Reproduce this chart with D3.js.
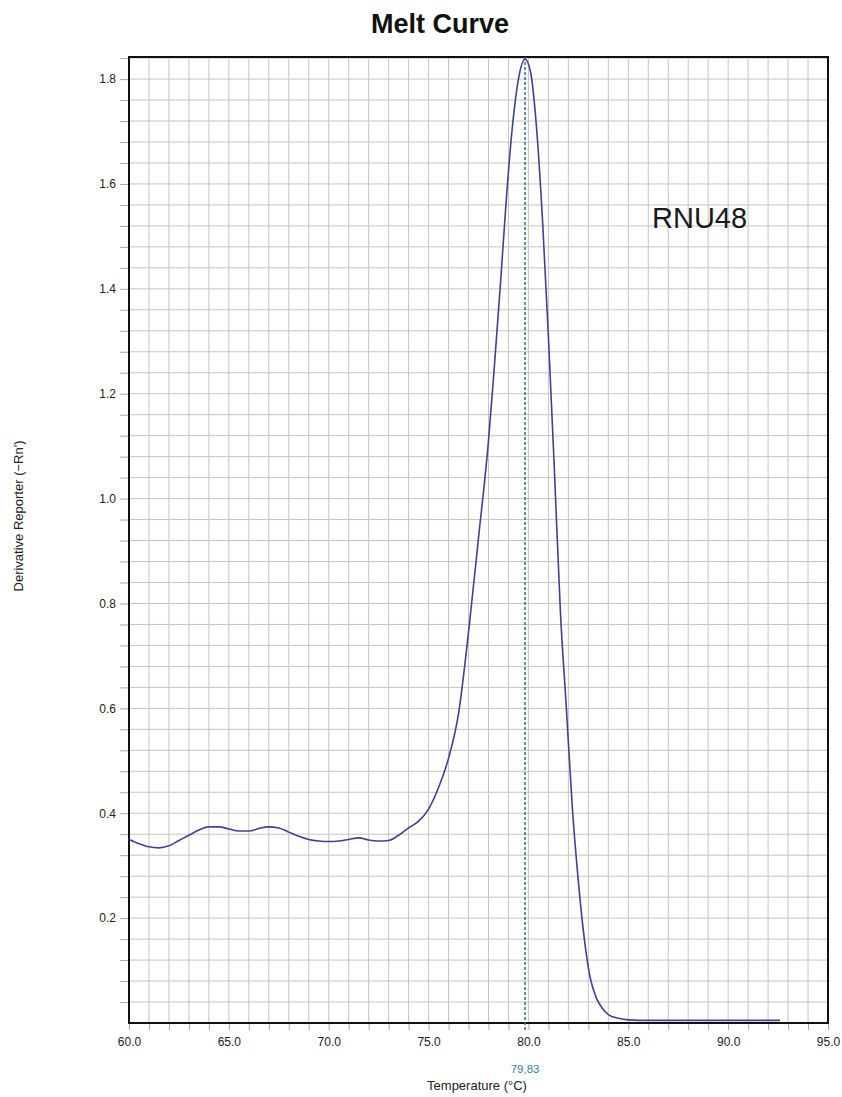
<!DOCTYPE html>
<html>
<head>
<meta charset="utf-8">
<script src="https://cdn.jsdelivr.net/npm/d3@7"></script>
<style>
  html, body { margin: 0; padding: 0; background: #fff; }
  svg { display: block; font-family: "Liberation Sans", Arial, sans-serif; }
</style>
</head>
<body>
<svg id="chart" width="842" height="1097"></svg>
<script>
// ---- data ----
const temperature = [60, 60.5, 61, 61.5, 62, 62.5, 63, 63.5, 64, 64.5, 65, 65.5, 66, 66.5, 67, 67.5, 68, 68.5, 69, 69.5,
  70, 70.5, 71, 71.5, 72, 72.5, 73, 73.5, 74, 74.5, 75, 75.5, 76, 76.5, 77, 77.5, 78, 78.3, 78.6, 78.9, 79.2, 79.5, 79.83,
  80.1, 80.4, 80.7, 81.0, 81.3, 81.6, 81.9, 82.2, 82.5, 82.8, 83.1, 83.4, 83.7, 84.0, 84.5, 85, 86, 88, 90, 92.6];
const derivative = [0.350, 0.342, 0.336, 0.334, 0.338, 0.348, 0.358, 0.368, 0.374, 0.374, 0.370, 0.366, 0.366, 0.371, 0.374, 0.372, 0.364, 0.356, 0.350, 0.347,
  0.346, 0.347, 0.350, 0.353, 0.349, 0.347, 0.348, 0.358, 0.372, 0.385, 0.408, 0.449, 0.505, 0.590, 0.745, 0.925, 1.110, 1.255, 1.410, 1.575, 1.710, 1.800, 1.838,
  1.815, 1.710, 1.535, 1.310, 1.055, 0.785, 0.600, 0.410, 0.270, 0.160, 0.085, 0.048, 0.028, 0.016, 0.009, 0.006, 0.005, 0.005, 0.005, 0.005];
const xTickLabels = ["60.0", "65.0", "70.0", "75.0", "80.0", "85.0", "90.0", "95.0"];
const yTickLabels = ["0.2", "0.4", "0.6", "0.8", "1.0", "1.2", "1.4", "1.6", "1.8"];
const meltTemp = 79.83;
const meltLabel = "79,83";
const targetName = "RNU48";
const title = "Melt Curve";
const xTitle = "Temperature (°C)";
const yTitle = "Derivative Reporter (\u2212Rn')";

// ---- layout ----
const svg = d3.select("#chart");
const L = 129, R = 828, T = 57, B = 1023;
const x = d3.scaleLinear().domain([60, 95]).range([L, R]);
const y = d3.scaleLinear().domain([0, (B - T) / 524.4]).range([B, T]);

const gridColor = "#c4c4c4";
const xMinor = d3.range(60, 95.001, 1);
const yMinor = d3.range(0.04, y.domain()[1], 0.04);

// grid
svg.append("g").selectAll("line").data(xMinor.slice(1, -1)).join("line")
  .attr("x1", d => x(d)).attr("x2", d => x(d)).attr("y1", T).attr("y2", B)
  .attr("stroke", gridColor).attr("stroke-width", 1);
svg.append("g").selectAll("line").data(yMinor).join("line")
  .attr("x1", L).attr("x2", R).attr("y1", d => y(d)).attr("y2", d => y(d))
  .attr("stroke", gridColor).attr("stroke-width", 1);

// x axis ticks (every 1 °C) and labels
const xAxis = d3.axisBottom(x).tickValues(xMinor).tickSize(7)
  .tickFormat(d => (d % 5 === 0) ? xTickLabels[(d - 60) / 5] : "");
const gx = svg.append("g").attr("transform", `translate(0,${B})`).call(xAxis);
gx.select(".domain").remove();
gx.selectAll(".tick line").attr("stroke", "#a8a8a8");
gx.selectAll(".tick text").attr("font-size", 12).attr("fill", "#222").attr("dy", "1.05em")
  .attr("font-family", "Liberation Sans, Arial, sans-serif");

// y axis ticks (every 0.04) and labels
const yAxis = d3.axisLeft(y).tickValues(yMinor).tickSize(9)
  .tickFormat(d => {
    const k = Math.round(d / 0.04);
    return (k % 5 === 0) ? yTickLabels[k / 5 - 1] : "";
  });
const gy = svg.append("g").attr("transform", `translate(${L},0)`).call(yAxis);
gy.select(".domain").remove();
gy.selectAll(".tick line").attr("stroke", "#a8a8a8");
gy.selectAll(".tick text").attr("font-size", 12).attr("fill", "#222").attr("x", -13)
  .attr("font-family", "Liberation Sans, Arial, sans-serif");

// frame
svg.append("rect").attr("x", L).attr("y", T).attr("width", R - L).attr("height", B - T)
  .attr("fill", "none").attr("stroke", "#111").attr("stroke-width", 2);

// melt temperature marker
svg.append("line")
  .attr("x1", x(meltTemp)).attr("x2", x(meltTemp)).attr("y1", T).attr("y2", B + 7)
  .attr("stroke", "#2f6f80").attr("stroke-width", 1.5).attr("stroke-dasharray", "3,2");
svg.append("text").attr("x", x(meltTemp)).attr("y", 1073).attr("text-anchor", "middle")
  .attr("font-size", 11.5).attr("fill", "#3b7f9c").text(meltLabel);

// curve
const pts = temperature.map((t, i) => [t, derivative[i]]);
const line = d3.line().x(d => x(d[0])).y(d => y(d[1])).curve(d3.curveMonotoneX);
svg.append("path").datum(pts).attr("d", line)
  .attr("fill", "none").attr("stroke", "#40409a").attr("stroke-width", 1.6);

// texts
svg.append("text").attr("x", 440).attr("y", 33).attr("text-anchor", "middle")
  .attr("font-size", 27).attr("font-weight", "bold").attr("fill", "#111").text(title);
svg.append("text").attr("x", 652).attr("y", 228)
  .attr("font-size", 29).attr("fill", "#1a1a1a").text(targetName);
svg.append("text").attr("x", 477).attr("y", 1090).attr("text-anchor", "middle")
  .attr("font-size", 13).attr("fill", "#222").text(xTitle);
svg.append("text").attr("transform", "translate(23,516) rotate(-90)").attr("text-anchor", "middle")
  .attr("font-size", 13).attr("fill", "#222").text(yTitle);
</script>
</body>
</html>
